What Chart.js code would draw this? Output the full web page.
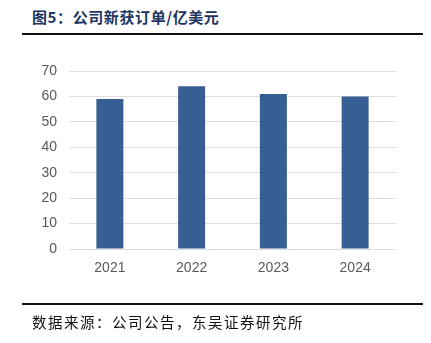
<!DOCTYPE html>
<html lang="zh">
<head>
<meta charset="UTF-8">
<title>公司新获订单</title>
<script src="https://cdn.jsdelivr.net/npm/chart.js"></script>
<style>
  html, body { margin: 0; padding: 0; background: #fff; }
  .wrap { position: relative; width: 431px; height: 343px; overflow: hidden; }
  .title {
    position: absolute; left: 32px; top: 6px;
    font: 600 15px "Noto Sans CJK SC", sans-serif; color: #1c3560;
    letter-spacing: 0.6px; white-space: nowrap;
  }
  .rule { position: absolute; left: 22px; width: 401px; height: 2px; background: #111; }
  .source {
    position: absolute; left: 32px; top: 311px;
    font: 400 14.5px "Noto Sans CJK SC", sans-serif; color: #111;
    letter-spacing: 1.5px; white-space: nowrap;
  }
  #chart { position: absolute; left: 0; top: 0; }
</style>
</head>
<body>
<div class="wrap">
  <div class="title">图5：公司新获订单/亿美元</div>
  <div class="rule" style="top:33px"></div>
  <canvas id="chart" width="431" height="343"></canvas>
  <div class="rule" style="top:303px"></div>
  <div class="source">数据来源：公司公告，东吴证券研究所</div>
</div>
<script>
  const years = ['2021', '2022', '2023', '2024'];
  const orders = [59, 64, 61, 60];
  const yTicks = [0, 10, 20, 30, 40, 50, 60, 70];

  const tickFont = { family: '"Liberation Sans", Arial, sans-serif', size: 14 };

  new Chart(document.getElementById('chart'), {
    type: 'bar',
    data: {
      labels: years,
      datasets: [{
        data: orders,
        backgroundColor: '#375f94',
        borderWidth: 0,
        categoryPercentage: 1,
        barPercentage: 0.33
      }]
    },
    options: {
      responsive: false,
      animation: false,
      layout: { padding: { top: 71, right: 35, bottom: 54, left: 0 } },
      plugins: { legend: { display: false }, tooltip: { enabled: false } },
      scales: {
        x: {
          grid: { display: false },
          border: { display: false },
          ticks: { color: '#595959', font: tickFont, padding: 3 },
          afterFit: (s) => { s.height = 40; }
        },
        y: {
          min: 0,
          max: 70,
          afterBuildTicks: (s) => { s.ticks = yTicks.map(v => ({ value: v })); },
          grid: { color: '#dedede', lineWidth: 1, drawTicks: false },
          border: { display: false },
          ticks: { color: '#595959', font: tickFont, padding: 12 },
          afterFit: (s) => { s.width = 69; }
        }
      }
    }
  });
</script>
</body>
</html>
